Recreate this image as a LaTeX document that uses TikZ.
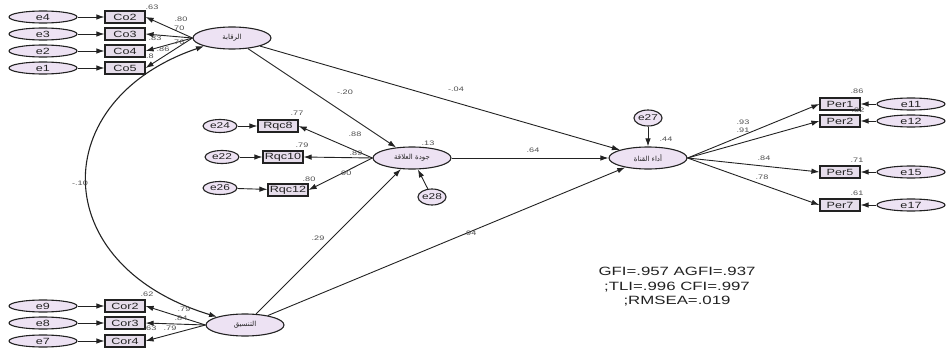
\documentclass[tikz,border=0pt]{standalone}
\usepackage{fontspec}
\setmainfont{Liberation Sans}[FakeStretch=1.4]
\newfontfamily\arabicfont[Script=Arabic]{DejaVu Sans}
\TeXXeTstate=1
\usetikzlibrary{shapes.geometric,arrows.meta}
\definecolor{lav}{HTML}{EDE2F3}
\definecolor{boxfill}{HTML}{E6DDEB}
\definecolor{ink}{HTML}{222222}
\tikzset{
  every node/.style={inner sep=0pt, text=ink},
  errnode/.style={ellipse, draw=ink, line width=1.1pt, fill=lav, minimum width=68pt, minimum height=12pt, font=\fontsize{9}{9}\selectfont},
  serr/.style={ellipse, draw=ink, line width=1.1pt, fill=lav, minimum width=34pt, minimum height=13pt, font=\fontsize{8.5}{9}\selectfont},
  indbox/.style={rectangle, draw=ink, line width=1.2pt, fill=boxfill, minimum width=40pt, minimum height=12pt, font=\fontsize{9}{9}\selectfont},
  latent/.style={ellipse, draw=ink, line width=1.1pt, fill=lav, minimum width=78pt, minimum height=22pt, font=\fontsize{7}{7}\arabicfont},
  lbl/.style={font=\fontsize{6.5}{7}\selectfont, text=ink!80},
  path/.style={draw=ink, line width=0.9pt, -{Latex[length=8pt,width=5.5pt]}},
  cov/.style={draw=ink, line width=1.1pt, {Latex[length=8pt,width=5.5pt]}-{Latex[length=8pt,width=5.5pt]}},
}
\begin{document}
\begin{tikzpicture}[x=1pt,y=-1pt]
\useasboundingbox (0,0) rectangle (951,353);

% latent variables
\node[latent] (ctrl)  at (232,38)  {\beginR الرقابة\endR};
\node[latent] (rq)    at (412,158) {\beginR جودة العلاقة\endR};
\node[latent] (perf)  at (648,158) {\beginR أداء القناة\endR};
\node[latent] (coord) at (245,325) {\beginR التنسيق\endR};

% control block
\node[indbox] (co2) at (125,17) {Co2};
\node[indbox] (co3) at (125,34) {Co3};
\node[indbox] (co4) at (125,51) {Co4};
\node[indbox] (co5) at (125,68) {Co5};
\node[errnode] (e4) at (43,17) {e4};
\node[errnode] (e3) at (43,34) {e3};
\node[errnode] (e2) at (43,51) {e2};
\node[errnode] (e1) at (43,68) {e1};
\foreach \e/\b in {e4/co2,e3/co3,e2/co4,e1/co5}{\draw[path] (\e) -- (\b);}
\foreach \b in {co2,co3,co4,co5}{\draw[path] (ctrl.west) -- (\b.east);}

% coordination block
\node[indbox] (cor2) at (125,306) {Cor2};
\node[indbox] (cor3) at (125,323) {Cor3};
\node[indbox] (cor4) at (125,341) {Cor4};
\node[errnode] (e9) at (43,306) {e9};
\node[errnode] (e8) at (43,323) {e8};
\node[errnode] (e7) at (43,341) {e7};
\foreach \e/\b in {e9/cor2,e8/cor3,e7/cor4}{\draw[path] (\e) -- (\b);}
\foreach \b in {cor2,cor3,cor4}{\draw[path] (coord.west) -- (\b.east);}

% relationship quality block
\node[indbox] (rqc8)  at (278,126) {Rqc8};
\node[indbox] (rqc10) at (283,157) {Rqc10};
\node[indbox] (rqc12) at (288,190) {Rqc12};
\node[serr] (e24) at (220,126) {e24};
\node[serr] (e22) at (222,157) {e22};
\node[serr] (e26) at (220,188) {e26};
\foreach \e/\b in {e24/rqc8,e22/rqc10,e26/rqc12}{\draw[path] (\e) -- (\b);}
\foreach \b in {rqc8,rqc10,rqc12}{\draw[path] (rq.west) -- (\b.east);}
\node[serr, minimum width=26pt, minimum height=16pt] (e28) at (432,197) {e28};
\draw[path] (e28) -- (rq);

% performance block
\node[indbox] (per1) at (840,104) {Per1};
\node[indbox] (per2) at (840,121) {Per2};
\node[indbox] (per5) at (840,172) {Per5};
\node[indbox] (per7) at (840,205) {Per7};
\node[errnode] (e11) at (911,104) {e11};
\node[errnode] (e12) at (911,121) {e12};
\node[errnode] (e15) at (911,172) {e15};
\node[errnode] (e17) at (911,205) {e17};
\foreach \e/\b in {e11/per1,e12/per2,e15/per5,e17/per7}{\draw[path] (\e) -- (\b);}
\foreach \b in {per1,per2,per5,per7}{\draw[path] (perf.east) -- (\b.west);}
\node[serr, minimum width=26pt, minimum height=16pt] (e27) at (648,118) {e27};
\draw[path] (e27) -- (perf);

% structural paths
\draw[path] (ctrl) -- (rq);
\draw[path] (ctrl) -- (perf);
\draw[path] (coord) -- (rq);
\draw[path] (coord) -- (perf);
\draw[path] (rq) -- (perf);
\draw[cov] (ctrl.south west) .. controls (46,100) and (46,265) .. (coord.north west);

% estimates
\node[lbl] (l01) at (152,7)   {.63};
\node[lbl] (l02) at (181,19)  {.80};
\node[lbl] (l03) at (178,28)  {.70};
\node[lbl] (l04) at (155,38)  {.83};
\node[lbl] (l05) at (178,42)  {.76};
\node[lbl] (l06) at (163,49)  {.86};
\node[lbl] (l07) at (150,56)  {.8};
\node[lbl] (l08) at (147,294) {.62};
\node[lbl] (l09) at (184,309) {.79};
\node[lbl] (l10) at (181,318) {.84};
\node[lbl] (l11) at (150,328) {.63};
\node[lbl] (l12) at (170,328) {.79};
\node[lbl] (l13) at (80,183)  {-.10};
\node[lbl] (l14) at (345,92)  {-.20};
\node[lbl] (l15) at (456,89)  {-.04};
\node[lbl] (l16) at (297,113) {.77};
\node[lbl] (l17) at (302,145) {.79};
\node[lbl] (l18) at (309,179) {.80};
\node[lbl] (l19) at (355,134) {.88};
\node[lbl] (l20) at (356,153) {.89};
\node[lbl] (l21) at (345,173) {.90};
\node[lbl] (l22) at (428,143) {.13};
\node[lbl] (l23) at (533,150) {.64};
\node[lbl] (l24) at (318,238) {.29};
\node[lbl] (l25) at (470,233) {.94};
\node[lbl] (l26) at (666,139) {.44};
\node[lbl] (l27) at (743,122) {.93};
\node[lbl] (l28) at (743,130) {.91};
\node[lbl] (l29) at (764,158) {.84};
\node[lbl] (l30) at (762,177) {.78};
\node[lbl] (l31) at (857,91)  {.86};
\node[lbl] (l32) at (858,110) {.82};
\node[lbl] (l33) at (857,160) {.71};
\node[lbl] (l34) at (857,193) {.61};

% fit indices
\node[font=\fontsize{12}{14.5}\selectfont, align=center] (fit) at (677,287)
  {GFI=.957 AGFI=.937\\;TLI=.996 CFI=.997\\;RMSEA=.019};
\end{tikzpicture}
\end{document}
